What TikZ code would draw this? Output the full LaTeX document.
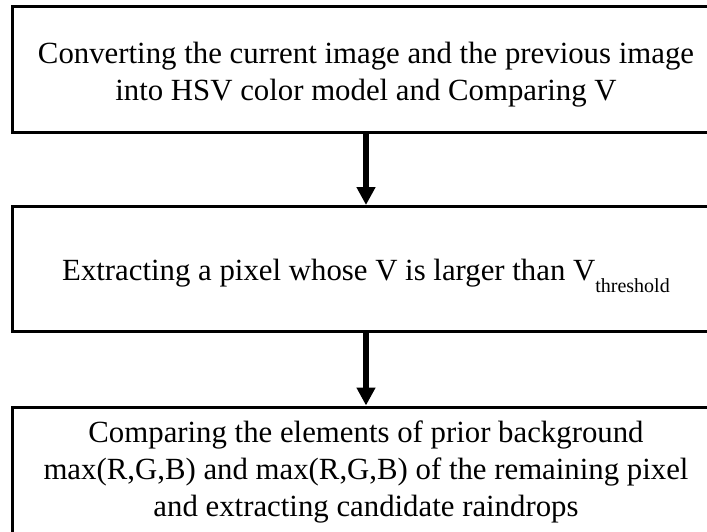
\documentclass[tikz,border=0pt]{standalone}
\usepackage{fontspec}
\setmainfont{Liberation Serif}
\usetikzlibrary{arrows.meta}
\newcommand{\vsubthr}{\raisebox{-12pt}{\fontsize{20}{20}\selectfont threshold}}
\begin{document}
\begin{tikzpicture}[x=1pt,y=-1pt,
  flowbox/.style={draw=black,line width=3pt,minimum width=708pt,inner sep=0pt},
  flowtext/.style={inner sep=0pt,align=center,font=\fontsize{30.8}{37}\selectfont},
  flowarrow/.style={line width=6pt,-{Triangle[width=18pt,length=18pt]}}]
\useasboundingbox (0,0) rectangle (707,531);
\begin{scope}
\clip (0,0) rectangle (707,531);
\node[flowbox,minimum height=126pt] (b1) at (366,69.5) {};
\node[flowbox,minimum height=125pt] (b2) at (366,269) {};
\node[flowbox,minimum height=126pt] (b3) at (366,470) {};
\node[flowtext] (t1) at (366,74.5) {Converting the current image and the previous image\\into HSV color model and Comparing V};
\node[flowtext,anchor=base] (t2) at (366,280) {Extracting a pixel whose V is larger than V\vsubthr};
\node[flowtext] (t3) at (366,472) {Comparing the elements of prior background\\max(R,G,B) and max(R,G,B) of the remaining pixel\\and extracting candidate raindrops};
\draw[flowarrow] (b1.south) -- (b2.north);
\draw[flowarrow] (b2.south) -- (b3.north);
\end{scope}
\end{tikzpicture}
\end{document}
